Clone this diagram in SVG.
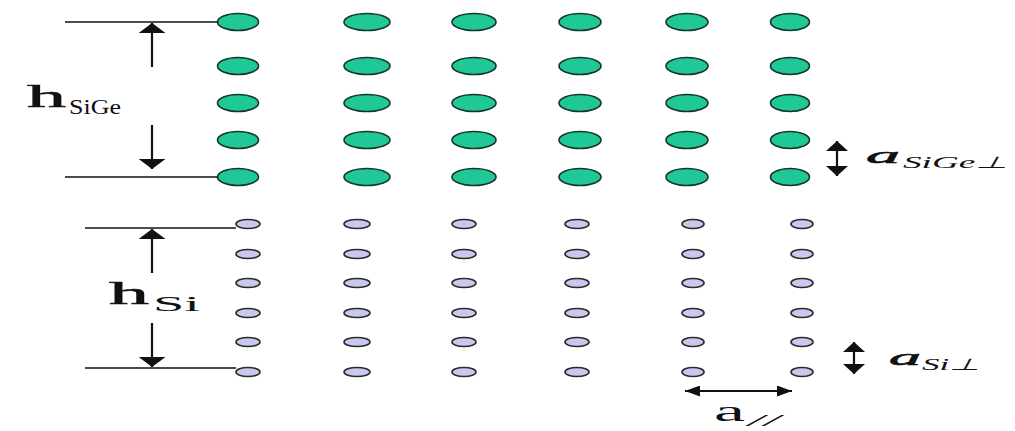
<svg xmlns="http://www.w3.org/2000/svg" width="1015" height="431" viewBox="0 0 1015 431">
<defs>
<style>
.g{fill:#1fc896;stroke:#17362a;stroke-width:1.6}
.p{fill:#c9c9ef;stroke:#2a2a2a;stroke-width:1.6}
.ln{stroke:#111;stroke-width:1.5;fill:none}
.ar{stroke:#111;stroke-width:2.2;fill:none}
.t{font-family:"Liberation Serif","Times New Roman",serif;fill:#111}
.tb{font-family:"Liberation Serif","Times New Roman",serif;fill:#111;stroke:#111;stroke-width:0.6}
.ti{font-family:"Liberation Serif","Times New Roman",serif;font-style:italic;fill:#111}
</style>
<marker id="big" viewBox="0 0 10 27" markerUnits="userSpaceOnUse" markerWidth="10" markerHeight="27" refX="10" refY="13.5" orient="auto-start-reverse" preserveAspectRatio="none"><path d="M0,0 L10,13.5 L0,27 Z" fill="#111"/></marker>
<marker id="mid" viewBox="0 0 10 22" markerUnits="userSpaceOnUse" markerWidth="10" markerHeight="22" refX="10" refY="11" orient="auto-start-reverse" preserveAspectRatio="none"><path d="M0,0 L10,11 L0,22 Z" fill="#111"/></marker>
<marker id="hor" viewBox="0 0 15 11" markerUnits="userSpaceOnUse" markerWidth="15" markerHeight="11" refX="15" refY="5.5" orient="auto-start-reverse" preserveAspectRatio="none"><path d="M0,0 L15,5.5 L0,11 Z" fill="#111"/></marker>
</defs>
<rect width="1015" height="431" fill="#fff"/>

<g id="sige-lattice">
<g id="sige-row1"><ellipse class="g" cx="238" cy="22" rx="20.5" ry="8.5"/><ellipse class="g" cx="367" cy="22" rx="23" ry="8.5"/><ellipse class="g" cx="474" cy="22" rx="22" ry="8.5"/><ellipse class="g" cx="580" cy="22" rx="21" ry="8.5"/><ellipse class="g" cx="687" cy="22" rx="21" ry="8.5"/><ellipse class="g" cx="790" cy="22" rx="19.5" ry="8.5"/></g>
<g id="sige-row2"><ellipse class="g" cx="238" cy="66" rx="20.5" ry="8.5"/><ellipse class="g" cx="367" cy="66" rx="23" ry="8.5"/><ellipse class="g" cx="474" cy="66" rx="22" ry="8.5"/><ellipse class="g" cx="580" cy="66" rx="21" ry="8.5"/><ellipse class="g" cx="687" cy="66" rx="21" ry="8.5"/><ellipse class="g" cx="790" cy="66" rx="19.5" ry="8.5"/></g>
<g id="sige-row3"><ellipse class="g" cx="238" cy="103" rx="20.5" ry="8.5"/><ellipse class="g" cx="367" cy="103" rx="23" ry="8.5"/><ellipse class="g" cx="474" cy="103" rx="22" ry="8.5"/><ellipse class="g" cx="580" cy="103" rx="21" ry="8.5"/><ellipse class="g" cx="687" cy="103" rx="21" ry="8.5"/><ellipse class="g" cx="790" cy="103" rx="19.5" ry="8.5"/></g>
<g id="sige-row4"><ellipse class="g" cx="238" cy="140" rx="20.5" ry="8.5"/><ellipse class="g" cx="367" cy="140" rx="23" ry="8.5"/><ellipse class="g" cx="474" cy="140" rx="22" ry="8.5"/><ellipse class="g" cx="580" cy="140" rx="21" ry="8.5"/><ellipse class="g" cx="687" cy="140" rx="21" ry="8.5"/><ellipse class="g" cx="790" cy="140" rx="19.5" ry="8.5"/></g>
<g id="sige-row5"><ellipse class="g" cx="238" cy="177" rx="20.5" ry="8.5"/><ellipse class="g" cx="367" cy="177" rx="23" ry="8.5"/><ellipse class="g" cx="474" cy="177" rx="22" ry="8.5"/><ellipse class="g" cx="580" cy="177" rx="21" ry="8.5"/><ellipse class="g" cx="687" cy="177" rx="21" ry="8.5"/><ellipse class="g" cx="790" cy="177" rx="19.5" ry="8.5"/></g>
</g>

<g id="si-lattice">
<g id="si-row1"><ellipse class="p" cx="248" cy="224" rx="12" ry="4.5"/><ellipse class="p" cx="357" cy="224" rx="13" ry="4.5"/><ellipse class="p" cx="464" cy="224" rx="12" ry="4.5"/><ellipse class="p" cx="577" cy="224" rx="12" ry="4.5"/><ellipse class="p" cx="693" cy="224" rx="11" ry="4.5"/><ellipse class="p" cx="802" cy="224" rx="11" ry="4.5"/></g>
<g id="si-row2"><ellipse class="p" cx="248" cy="254" rx="12" ry="4.5"/><ellipse class="p" cx="357" cy="254" rx="13" ry="4.5"/><ellipse class="p" cx="464" cy="254" rx="12" ry="4.5"/><ellipse class="p" cx="577" cy="254" rx="12" ry="4.5"/><ellipse class="p" cx="693" cy="254" rx="11" ry="4.5"/><ellipse class="p" cx="802" cy="254" rx="11" ry="4.5"/></g>
<g id="si-row3"><ellipse class="p" cx="248" cy="283" rx="12" ry="4.5"/><ellipse class="p" cx="357" cy="283" rx="13" ry="4.5"/><ellipse class="p" cx="464" cy="283" rx="12" ry="4.5"/><ellipse class="p" cx="577" cy="283" rx="12" ry="4.5"/><ellipse class="p" cx="693" cy="283" rx="11" ry="4.5"/><ellipse class="p" cx="802" cy="283" rx="11" ry="4.5"/></g>
<g id="si-row4"><ellipse class="p" cx="248" cy="313" rx="12" ry="4.5"/><ellipse class="p" cx="357" cy="313" rx="13" ry="4.5"/><ellipse class="p" cx="464" cy="313" rx="12" ry="4.5"/><ellipse class="p" cx="577" cy="313" rx="12" ry="4.5"/><ellipse class="p" cx="693" cy="313" rx="11" ry="4.5"/><ellipse class="p" cx="802" cy="313" rx="11" ry="4.5"/></g>
<g id="si-row5"><ellipse class="p" cx="248" cy="342" rx="12" ry="4.5"/><ellipse class="p" cx="357" cy="342" rx="13" ry="4.5"/><ellipse class="p" cx="464" cy="342" rx="12" ry="4.5"/><ellipse class="p" cx="577" cy="342" rx="12" ry="4.5"/><ellipse class="p" cx="693" cy="342" rx="11" ry="4.5"/><ellipse class="p" cx="802" cy="342" rx="11" ry="4.5"/></g>
<g id="si-row6"><ellipse class="p" cx="248" cy="372" rx="12" ry="4.5"/><ellipse class="p" cx="357" cy="372" rx="13" ry="4.5"/><ellipse class="p" cx="464" cy="372" rx="12" ry="4.5"/><ellipse class="p" cx="577" cy="372" rx="12" ry="4.5"/><ellipse class="p" cx="693" cy="372" rx="11" ry="4.5"/><ellipse class="p" cx="802" cy="372" rx="11" ry="4.5"/></g>
</g>

<g id="connectors">
<line class="ln" x1="65" y1="22" x2="218" y2="22"/>
<line class="ln" x1="65" y1="177" x2="218" y2="177"/>
<line class="ar" x1="152" y1="67" x2="152" y2="23" marker-end="url(#big)"/>
<line class="ar" x1="152" y1="125" x2="152" y2="169" marker-end="url(#big)"/>
<line class="ln" x1="85" y1="228" x2="236" y2="228"/>
<line class="ln" x1="85" y1="368" x2="236" y2="368"/>
<line class="ar" x1="152" y1="273" x2="152" y2="229" marker-end="url(#big)"/>
<line class="ar" x1="152" y1="323" x2="152" y2="367" marker-end="url(#big)"/>
<line class="ar" x1="837" y1="141" x2="837" y2="176" marker-start="url(#mid)" marker-end="url(#mid)"/>
<line class="ar" x1="854" y1="342" x2="854" y2="374" marker-start="url(#mid)" marker-end="url(#mid)"/>
<line class="ar" x1="685" y1="391" x2="792" y2="391" marker-start="url(#hor)" marker-end="url(#hor)"/>
</g>

<g id="label-hsige">
<text class="tb" x="27" y="107" font-size="32" textLength="39" lengthAdjust="spacingAndGlyphs">h</text>
<text class="t" x="69" y="114" font-size="22" textLength="52" lengthAdjust="spacingAndGlyphs">SiGe</text>
</g>
<g id="label-hsi">
<text class="tb" x="109" y="304" font-size="32" textLength="40" lengthAdjust="spacingAndGlyphs">h</text>
<text class="t" x="153" y="311" font-size="22" textLength="47" lengthAdjust="spacingAndGlyphs">Si</text>
</g>
<g id="label-asige">
<text class="ti" x="866" y="163" font-size="24" textLength="34" lengthAdjust="spacingAndGlyphs" stroke="#111" stroke-width="0.6">a</text>
<text class="ti" x="903" y="168" font-size="16" textLength="105" lengthAdjust="spacingAndGlyphs">SiGe⊥</text>
</g>
<g id="label-asi">
<text class="ti" x="889" y="365" font-size="24" textLength="32" lengthAdjust="spacingAndGlyphs" stroke="#111" stroke-width="0.6">a</text>
<text class="ti" x="922" y="370" font-size="16" textLength="58" lengthAdjust="spacingAndGlyphs">Si⊥</text>
</g>
<g id="label-apar">
<text class="t" x="714" y="421" font-size="30" textLength="31" lengthAdjust="spacingAndGlyphs">a</text>
<text class="ti" x="748" y="426" font-size="17" textLength="32" lengthAdjust="spacingAndGlyphs">//</text>
</g>
</svg>
